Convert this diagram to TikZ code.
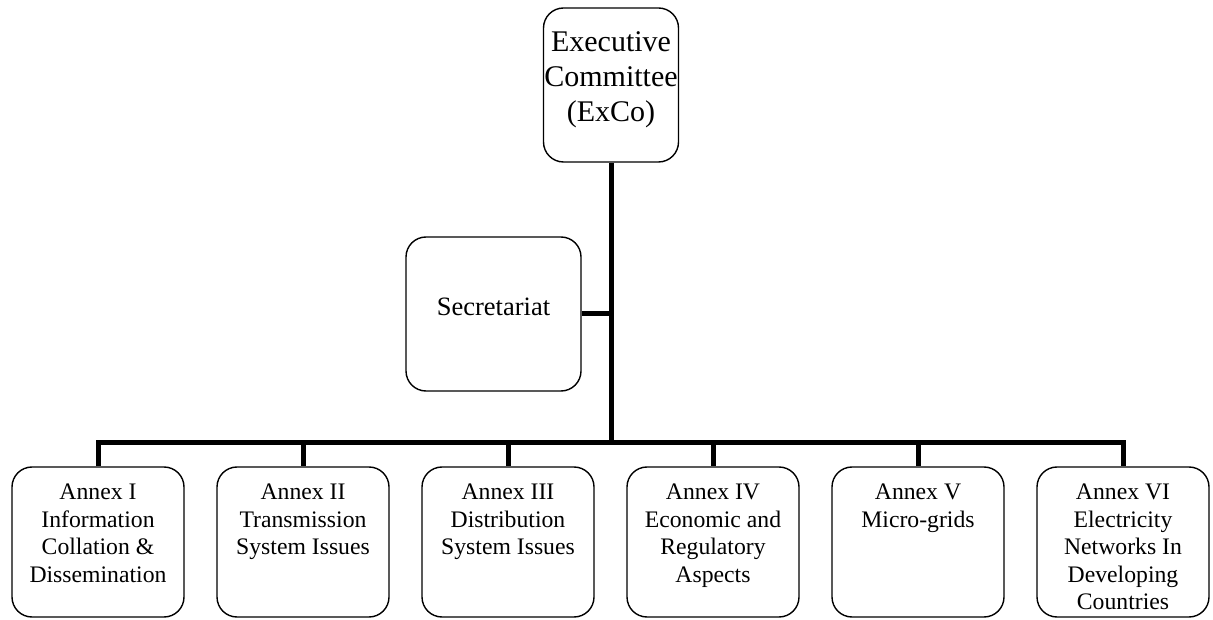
\documentclass[tikz,border=0pt]{standalone}
\usepackage{fontspec}
\setmainfont{Liberation Serif}
\usetikzlibrary{calc}
\newcommand{\annextext}[1]{\parbox[c][150pt][t]{172pt}{\centering\fontsize{23.7}{27.5}\selectfont\vspace*{17pt}#1}}

\begin{document}
\begin{tikzpicture}[x=1pt,y=1pt,
	orgbox/.style={draw, rounded corners=20pt, line width=1.4pt, inner sep=0pt},
	link/.style={line width=5pt}]
	\useasboundingbox (0,0) rectangle (1213,619);
	\node[orgbox] (exco) at (611,534) {\parbox[c][154pt][t]{135pt}{\centering\fontsize{30}{35}\selectfont\vspace*{23.5pt}Executive\\Committee\\(ExCo)}};
	\node[orgbox] (secr) at (493.5,305) {\parbox[c][154pt][c]{175pt}{\centering\fontsize{26.5}{30}\selectfont Secretariat\par\vspace{14pt}}};
	\foreach \i/\t in {1/{Annex I\\Information\\Collation \&\\Dissemination},
		2/{Annex II\\Transmission\\System Issues},
		3/{Annex III\\Distribution\\System Issues},
		4/{Annex IV\\Economic and\\Regulatory\\Aspects},
		5/{Annex V\\Micro-grids},
		6/{Annex VI\\Electricity\\Networks In\\Developing\\Countries}}
		\node[orgbox] (a\i) at ({98+205*(\i-1)},77) {\annextext{\t}};
	\coordinate (bus) at (611,176);
	\draw[link] (exco.south) -- (bus);
	\draw[link] (secr.east) -- (secr.east -| exco.south);
	\draw[link] (a1.north) -- (a1.north |- bus) -- (a6.north |- bus) -- (a6.north);
	\foreach \i in {2,...,5}
		\draw[link] (a\i.north |- bus) -- (a\i.north);
\end{tikzpicture}
\end{document}
